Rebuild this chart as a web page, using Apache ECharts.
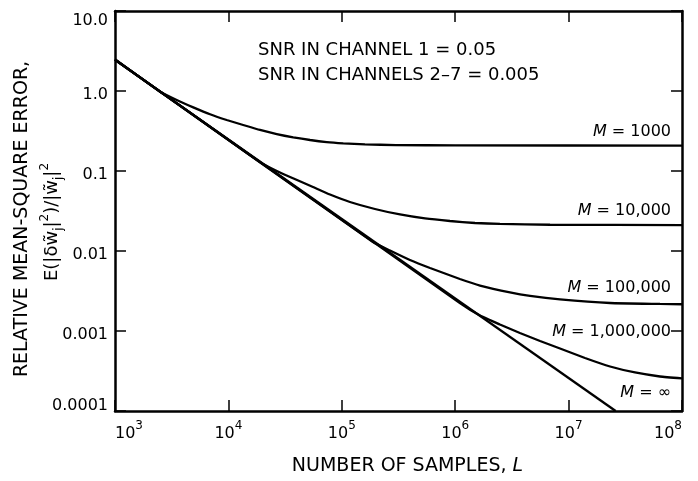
<!DOCTYPE html>
<html><head><meta charset="utf-8">
<script src="https://cdn.jsdelivr.net/npm/echarts@6/dist/echarts.min.js"></script>
<style>html,body{margin:0;padding:0;background:#fff}#c{width:698px;height:481px}</style>
</head><body><div id="c"></div>
<script>
// Number of samples L and relative mean-square error, per curve
const L_M1000 = [1000, 2495, 3500, 4900, 6890, 9660, 13500, 19000, 26700, 37300, 52500, 73600, 103000, 160000, 300000, 1e6, 1e8];
const E_M1000 = [2.5, 0.98, 0.772, 0.625, 0.512, 0.434, 0.376, 0.326, 0.290, 0.264, 0.244, 0.230, 0.222, 0.215, 0.211, 0.209, 0.208];

const L_M10000 = [1000, 15500, 20200, 28500, 40300, 55700, 78700, 118000, 196000, 326000, 542000, 899000, 1.496e6, 2.48e6, 6.86e6, 1e8];
const E_M10000 = [2.47, 0.158, 0.1224, 0.0958, 0.0772, 0.0631, 0.0508, 0.0410, 0.0335, 0.0286, 0.0255, 0.0237, 0.0224, 0.0218, 0.0213, 0.0211];

const L_M100000 = [1000, 188400, 266000, 399000, 600000, 1.10e6, 1.655e6, 3.04e6, 4.57e6, 8.40e6, 2.32e7, 6.40e7, 1e8];
const E_M100000 = [2.46, 0.01296, 0.01014, 0.00772, 0.00613, 0.00447, 0.00370, 0.00303, 0.00274, 0.00248, 0.00224, 0.00218, 0.00216];

const L_M1000000 = [1000, 1.10e6, 1.655e6, 2.48e6, 3.72e6, 5.60e6, 8.40e6, 1.395e7, 2.32e7, 3.85e7, 6.40e7, 1e8];
const E_M1000000 = [2.46, 0.00224, 0.001562, 0.001206, 0.000944, 0.000750, 0.000604, 0.000460, 0.000360, 0.000303, 0.000270, 0.000255];

const L_Minf = [1000, 2.6e7];
const E_Minf = [2.45, 0.0001];

const curveLabels = ['1000', '10,000', '100,000', '1,000,000', '∞'];

const yTickExponents = [-4, -3, -2, -1, 0, 1];
const yTickLabels = ['0.0001', '0.001', '0.01', '0.1', '1.0', '10.0'];
const xTickExponents = [3, 4, 5, 6, 7, 8];
const xTickLabels = ['3', '4', '5', '6', '7', '8'];

const FONT = 'DejaVu Sans';
function pairs(xs, ys) { return xs.map((x, i) => [x, ys[i]]); }

const chart = echarts.init(document.getElementById('c'), null, {renderer: 'canvas'});

function mkSeries(xs, ys, smooth) {
  return {
    type: 'line', data: pairs(xs, ys), symbol: 'none', smooth: smooth,
    lineStyle: {color: '#000', width: 2.3}, clip: true, animation: false
  };
}

const axisLineStyle = {show: true, lineStyle: {color: '#000', width: 2.5}};
const tickStyle = {show: true, inside: true, length: 11, lineStyle: {color: '#000', width: 1.5}};

function mLabel(x, y, t) {
  return {type: 'text', x: x, y: y, style: {
    text: '{i|M} = ' + t, align: 'right', verticalAlign: 'middle', fill: '#000',
    font: '16px "DejaVu Sans"',
    rich: {i: {fontFamily: FONT, fontSize: 16, fontStyle: 'italic', fill: '#000'}}
  }};
}

const option = {
  backgroundColor: '#fff',
  animation: false,
  grid: {left: 115, right: 16, top: 11, bottom: 70, containLabel: false},
  xAxis: [{
    type: 'log', logBase: 10, min: 1000, max: 1e8, interval: 1,
    axisLine: axisLineStyle, axisTick: tickStyle, splitLine: {show: false}, minorTick: {show: false},
    axisLabel: {
      margin: 9, color: '#000', fontFamily: FONT, fontSize: 16,
      alignMinLabel: 'left', alignMaxLabel: 'right',
      showMinLabel: true, showMaxLabel: true,
      formatter: function (v) {
        const e = Math.round(Math.log10(v));
        const i = xTickExponents.indexOf(e);
        return '{a|10}{s|' + xTickLabels[i] + '}';
      },
      rich: {
        a: {fontFamily: FONT, fontSize: 16, color: '#000', lineHeight: 22, verticalAlign: 'bottom'},
        s: {fontFamily: FONT, fontSize: 12, color: '#000', lineHeight: 22, verticalAlign: 'top'}
      }
    },
    name: 'NUMBER OF SAMPLES, {it|L}', nameLocation: 'middle', nameGap: 46,
    nameTextStyle: {fontFamily: FONT, fontSize: 19, color: '#000', padding: [0, 0, 0, 18],
      rich: {it: {fontFamily: FONT, fontSize: 19, fontStyle: 'italic', color: '#000'}}}
  }, {
    type: 'log', logBase: 10, min: 1000, max: 1e8, interval: 1, position: 'top',
    axisLine: axisLineStyle, axisTick: tickStyle, axisLabel: {show: false}, splitLine: {show: false}
  }],
  yAxis: [{
    type: 'log', logBase: 10, min: 0.0001, max: 10, interval: 1,
    axisLine: axisLineStyle, axisTick: tickStyle, splitLine: {show: false}, minorTick: {show: false},
    axisLabel: {
      margin: 7, color: '#000', fontFamily: FONT, fontSize: 16,
      showMinLabel: true, showMaxLabel: true,
      formatter: function (v) {
        const e = Math.round(Math.log10(v));
        const i = yTickExponents.indexOf(e);
        const t = yTickLabels[i];
        if (i === yTickLabels.length - 1) return '{top|' + t + '}';
        if (i === 0) return '{bot|' + t + '}';
        return '{mid|' + t + '}';
      },
      rich: {
        top: {fontFamily: FONT, fontSize: 16, color: '#000', padding: [20, 0, 0, 0]},
        mid: {fontFamily: FONT, fontSize: 16, color: '#000', padding: [8, 0, 0, 0]},
        bot: {fontFamily: FONT, fontSize: 16, color: '#000', padding: [0, 0, 10, 0]}
      }
    }
  }, {
    type: 'log', logBase: 10, min: 0.0001, max: 10, interval: 1, position: 'right',
    axisLine: axisLineStyle, axisTick: tickStyle, axisLabel: {show: false}, splitLine: {show: false}
  }],
  series: [
    mkSeries(L_M1000, E_M1000, 0.15),
    mkSeries(L_M10000, E_M10000, 0.15),
    mkSeries(L_M100000, E_M100000, 0.15),
    mkSeries(L_M1000000, E_M1000000, 0.15),
    mkSeries(L_Minf, E_Minf, false)
  ],
  graphic: [
    {type: 'text', x: 258, y: 50, style: {text: 'SNR IN CHANNEL 1 = 0.05', font: '18px "DejaVu Sans"', fill: '#000', align: 'left', verticalAlign: 'middle'}},
    {type: 'text', x: 258, y: 75, style: {text: 'SNR IN CHANNELS 2–7 = 0.005', font: '18px "DejaVu Sans"', fill: '#000', align: 'left', verticalAlign: 'middle'}},
    {type: 'text', x: 22, y: 219, rotation: Math.PI / 2, style: {text: 'RELATIVE MEAN-SQUARE ERROR,', font: '19px "DejaVu Sans"', fill: '#000', align: 'center', verticalAlign: 'middle'}},
    {type: 'text', x: 52, y: 222, rotation: Math.PI / 2, style: {
      text: '{m|E(|δ}{m|w̃}{sub|j}{m||}{sup|2}{m|)/|w̃}{sub|j}{m||}{sup|2}',
      align: 'center', verticalAlign: 'middle', fill: '#000',
      rich: {
        m: {fontFamily: FONT, fontSize: 18, fill: '#000', lineHeight: 26, verticalAlign: 'middle'},
        sub: {fontFamily: FONT, fontSize: 12, fill: '#000', lineHeight: 26, verticalAlign: 'bottom'},
        sup: {fontFamily: FONT, fontSize: 12, fill: '#000', lineHeight: 26, verticalAlign: 'top'}
      }
    }},
    mLabel(671, 132, curveLabels[0]),
    mLabel(671, 211, curveLabels[1]),
    mLabel(671, 288, curveLabels[2]),
    mLabel(671, 332, curveLabels[3]),
    mLabel(671, 393, curveLabels[4])
  ]
};
chart.setOption(option);
</script>
</body></html>
